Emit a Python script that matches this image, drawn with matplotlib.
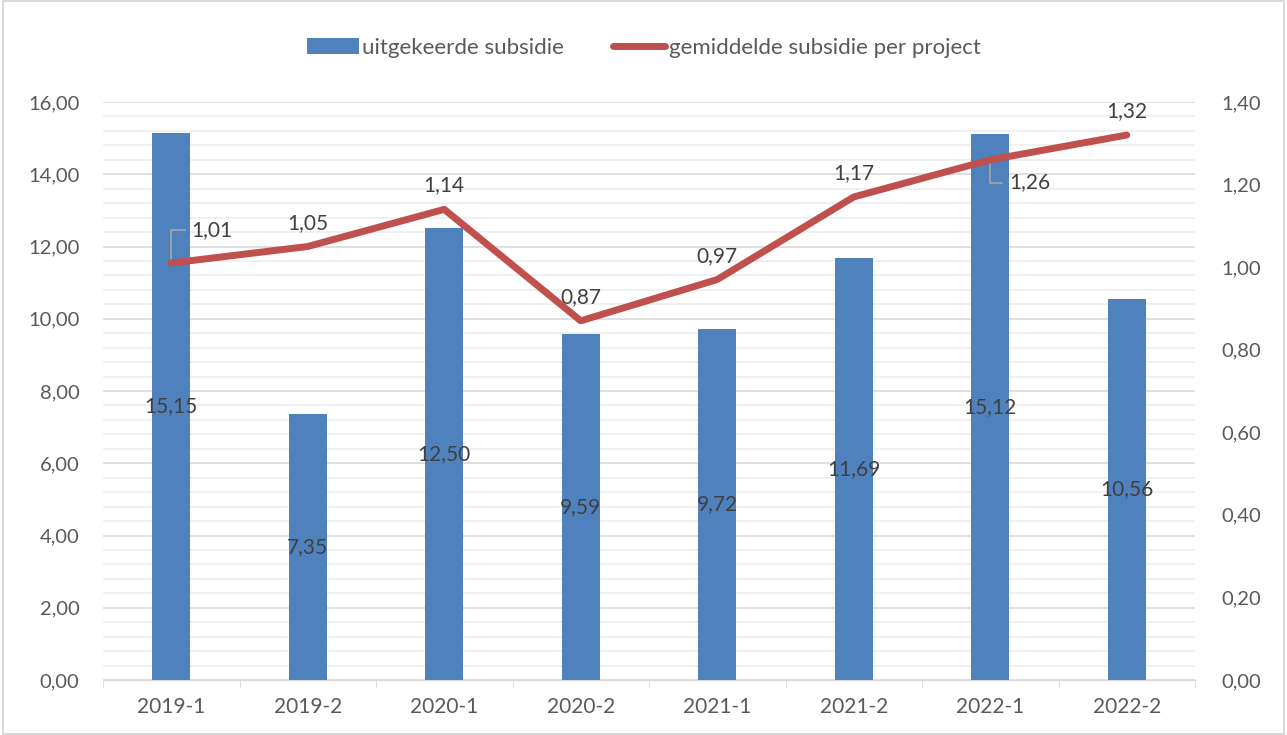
import matplotlib.pyplot as plt
import numpy as np
from matplotlib.ticker import MultipleLocator, FuncFormatter
from matplotlib.patches import Rectangle

plt.rcParams['font.family'] = ['Lato', 'DejaVu Sans']
grey = '#595959'

periodes = ['2019-1', '2019-2', '2020-1', '2020-2', '2021-1', '2021-2', '2022-1', '2022-2']
uitgekeerd = [15.15, 7.35, 12.50, 9.59, 9.72, 11.69, 15.12, 10.56]
gemiddeld = [1.01, 1.05, 1.14, 0.87, 0.97, 1.17, 1.26, 1.32]

def nl(v, pos=None):
    return f"{v:.2f}".replace('.', ',')

fig = plt.figure(figsize=(12.87, 7.35), dpi=100)
ax = fig.add_axes([103 / 1287, 55 / 735, 1092 / 1287, 578 / 735])
ax2 = ax.twinx()

x = np.arange(len(periodes))
ax.bar(x, uitgekeerd, width=0.28, color='#4F81BD', zorder=3, label='uitgekeerde subsidie')
for xi, v in zip(x, uitgekeerd):
    ax.text(xi, v / 2, nl(v), ha='center', va='center', fontsize=15, color='#404040', zorder=4)

ax.set_xlim(-0.5, len(periodes) - 0.5)
ax.set_ylim(0, 16)
ax.yaxis.set_major_locator(MultipleLocator(2))
ax.yaxis.set_minor_locator(MultipleLocator(0.4))
ax.yaxis.set_major_formatter(FuncFormatter(nl))
ax.grid(axis='y', which='major', color='#D9D9D9', lw=1.2, zorder=0)
ax.grid(axis='y', which='minor', color='#EDEDED', lw=1.2, zorder=0)
ax.set_xticks(x)
ax.set_xticklabels(periodes)
ax.set_xticks(np.arange(-0.5, len(periodes)), minor=True)
ax.tick_params(axis='x', which='major', length=0, pad=12, labelsize=15, labelcolor=grey)
ax.tick_params(axis='x', which='minor', length=6, color='#D9D9D9')
ax.tick_params(axis='y', which='both', length=0, pad=17, labelsize=14.5, labelcolor=grey)
for s in ['top', 'left', 'right']:
    ax.spines[s].set_visible(False)
ax.spines['bottom'].set_color('#D9D9D9')

ax2.plot(x, gemiddeld, color='#C0504D', lw=5, solid_capstyle='round', zorder=5,
         label='gemiddelde subsidie per project')
ax2.set_ylim(0, 1.4)
ax2.yaxis.set_major_locator(MultipleLocator(0.2))
ax2.yaxis.set_major_formatter(FuncFormatter(nl))
ax2.tick_params(axis='y', length=0, pad=19, labelsize=14.5, labelcolor=grey)
for s in ['top', 'left', 'right', 'bottom']:
    ax2.spines[s].set_visible(False)

for i, v in enumerate(gemiddeld):
    if i == 0:
        ax2.annotate(nl(v), (x[i], v), xytext=(x[i] + 0.15, v + 0.08), fontsize=15, color='#404040',
                     ha='left', va='center',
                     arrowprops=dict(arrowstyle='-', color='#A6A6A6', lw=1.2,
                                     connectionstyle='angle,angleA=0,angleB=90,rad=0', shrinkA=3, shrinkB=2))
    elif i == 6:
        ax2.annotate(nl(v), (x[i], v), xytext=(x[i] + 0.14, v - 0.055), fontsize=15, color='#404040',
                     ha='left', va='center',
                     arrowprops=dict(arrowstyle='-', color='#A6A6A6', lw=1.2,
                                     connectionstyle='angle,angleA=0,angleB=90,rad=0', shrinkA=3, shrinkB=2))
    else:
        ax2.annotate(nl(v), (x[i], v), xytext=(0, 10), textcoords='offset points', fontsize=15,
                     color='#404040', ha='center', va='bottom')

h1, l1 = ax.get_legend_handles_labels()
h2, l2 = ax2.get_legend_handles_labels()
fig.legend(h1 + h2, l1 + l2, loc='center', bbox_to_anchor=(0.5, 1 - 48 / 735), ncol=2, frameon=False,
           fontsize=16, labelcolor=grey, handlelength=2.35, handletextpad=0.15, columnspacing=2.2)

fig.patches.append(Rectangle((0.002, 0.002), 0.996, 0.996, transform=fig.transFigure,
                             fill=False, edgecolor='#D9D9D9', lw=1.5))

fig.savefig('out.png', dpi=100)
